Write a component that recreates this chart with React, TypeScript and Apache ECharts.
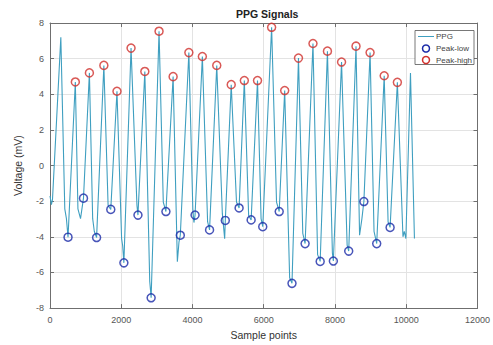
import React, { useEffect, useRef } from "react";
import * as echarts from "echarts";

const xTicks = [0, 2000, 4000, 6000, 8000, 10000, 12000];
const yTicks = [-8, -6, -4, -2, 0, 2, 4, 6, 8];

const highX = [711, 1106, 1512, 1880, 2275, 2662, 3061, 3456, 3898, 4277, 4681, 5087, 5455, 5825, 6221, 6588, 6975, 7382, 7788, 8184, 8590, 8985, 9381, 9751];
const highY = [4.69, 5.2, 5.62, 4.17, 6.59, 5.28, 7.54, 4.99, 6.34, 6.12, 5.62, 4.54, 4.77, 4.77, 7.76, 4.21, 6.03, 6.85, 6.42, 5.81, 6.7, 6.34, 5.04, 4.67];

const lowX = [506, 940, 1308, 1706, 2074, 2469, 2839, 3254, 3658, 4072, 4479, 4921, 5308, 5646, 5972, 6434, 6793, 7161, 7584, 7954, 8385, 8811, 9171, 9547];
const lowY = [-4.02, -1.83, -4.04, -2.46, -5.46, -2.78, -7.42, -2.58, -3.91, -2.78, -3.61, -3.08, -2.38, -3.05, -3.43, -2.58, -6.61, -4.38, -5.38, -5.36, -4.8, -2.02, -4.38, -3.47];

const ppgX = [0, 40, 70, 304, 415, 461, 506, 711, 784, 857, 940, 1106, 1198, 1244, 1308, 1512, 1631, 1706, 1880, 2010, 2040, 2074, 2275, 2441, 2469, 2662, 2800, 2839, 3061, 3180, 3254, 3456, 3575, 3620, 3658, 3898, 4009, 4040, 4072, 4277, 4424, 4479, 4681, 4838, 4903, 4921, 5087, 5235, 5308, 5455, 5576, 5646, 5825, 5925, 5972, 6221, 6359, 6434, 6588, 6727, 6793, 6975, 7096, 7161, 7382, 7512, 7584, 7788, 7927, 7954, 8184, 8341, 8385, 8590, 8690, 8756, 8811, 8985, 9096, 9171, 9381, 9491, 9547, 9751, 9908, 9945, 9990, 10119, 10230];
const ppgY = [-1.7, -2.2, -1.9, 7.2, -2.43, -2.98, -4.02, 4.69, -2.43, -2.98, -1.83, 5.2, -2.98, -3.7, -4.04, 5.62, -2.24, -2.46, 4.17, -4.1, -4.5, -5.46, 6.59, -2.24, -2.78, 5.28, -6.5, -7.42, 7.54, -2.05, -2.58, 4.99, -5.4, -4.3, -3.91, 6.34, -2.43, -3.2, -2.78, 6.12, -3.15, -3.61, 5.62, -2.7, -4.1, -3.08, 4.54, -2.05, -2.38, 4.77, -2.8, -3.05, 4.77, -2.98, -3.43, 7.76, -2.05, -2.58, 4.21, -6.3, -6.61, 6.03, -3.8, -4.38, 6.85, -5.0, -5.38, 6.42, -4.9, -5.36, 5.81, -4.47, -4.8, 6.7, -3.91, -2.98, -2.02, 6.34, -3.7, -4.38, 5.04, -3.17, -3.47, 4.67, -4.0, -3.7, -4.1, 5.2, -4.1];

const LINE = "#3f9fc0";
const RED = "#d0302c";
const BLUE = "#1a2aa8";
const FONT = "Liberation Sans, Arial, sans-serif";

export default function App() {
  const ref = useRef<HTMLDivElement>(null);
  useEffect(() => {
    if (!ref.current) return;
    const chart = echarts.init(ref.current, undefined, { renderer: "svg" });
    const pair = (xs: number[], ys: number[]) => xs.map((x, i) => [x, ys[i]]);
    const axisCommon = {
      axisLine: { show: true, onZero: false, lineStyle: { color: "#6f6f6f", width: 1 } },
      axisTick: { show: true, inside: true, length: 4, lineStyle: { color: "#6f6f6f" } },
    };
    chart.setOption({
      animation: false,
      backgroundColor: "#ffffff",
      textStyle: { fontFamily: FONT },
      title: {
        text: "PPG Signals",
        left: 236,
        top: 8,
        padding: 0,
        textStyle: { fontSize: 10.5, fontWeight: "bold", color: "#222", fontFamily: FONT },
      },
      grid: { left: 50, right: 9, top: 23, bottom: 35, containLabel: false },
      xAxis: [
        {
          type: "value",
          min: xTicks[0],
          max: xTicks[xTicks.length - 1],
          interval: xTicks[1] - xTicks[0],
          name: "Sample points",
          nameLocation: "middle",
          nameGap: 15,
          nameTextStyle: { fontSize: 10.5, color: "#333", fontFamily: FONT },
          axisLabel: { fontSize: 9, color: "#555", margin: 7, fontFamily: FONT, formatter: (v: number) => String(v) },
          splitLine: { show: true, lineStyle: { color: "#e3e3e3", width: 1 } },
          ...axisCommon,
        },
        {
          type: "value",
          position: "top",
          min: xTicks[0],
          max: xTicks[xTicks.length - 1],
          interval: xTicks[1] - xTicks[0],
          axisLabel: { show: false },
          splitLine: { show: false },
          ...axisCommon,
        },
      ],
      yAxis: [
        {
          type: "value",
          min: yTicks[0],
          max: yTicks[yTicks.length - 1],
          interval: yTicks[1] - yTicks[0],
          name: "Voltage (mV)",
          nameLocation: "middle",
          nameGap: 27,
          nameTextStyle: { fontSize: 10.5, color: "#333", fontFamily: FONT },
          axisLabel: { fontSize: 9, color: "#555", margin: 6, fontFamily: FONT, formatter: (v: number) => String(v) },
          splitLine: { show: true, lineStyle: { color: "#e3e3e3", width: 1 } },
          ...axisCommon,
        },
        {
          type: "value",
          position: "right",
          min: yTicks[0],
          max: yTicks[yTicks.length - 1],
          interval: yTicks[1] - yTicks[0],
          axisLabel: { show: false },
          splitLine: { show: false },
          ...axisCommon,
        },
      ],
      series: [
        {
          name: "PPG",
          type: "line",
          data: pair(ppgX, ppgY),
          showSymbol: false,
          lineStyle: { color: LINE, width: 1.1 },
          z: 2,
        },
        {
          name: "Peak-low",
          type: "scatter",
          data: pair(lowX, lowY),
          symbol: "circle",
          symbolSize: 8,
          itemStyle: { color: "transparent", borderColor: BLUE, borderWidth: 1.5 },
          z: 3,
        },
        {
          name: "Peak-high",
          type: "scatter",
          data: pair(highX, highY),
          symbol: "circle",
          symbolSize: 8,
          itemStyle: { color: "transparent", borderColor: RED, borderWidth: 1.5 },
          z: 3,
        },
      ],
      graphic: [
        {
          type: "rect",
          shape: { x: 415, y: 30.5, width: 59, height: 34 },
          style: { fill: "#ffffff", stroke: "#555", lineWidth: 0.8 },
          z: 100,
        },
        {
          type: "line",
          shape: { x1: 418, y1: 36.5, x2: 434, y2: 36.5 },
          style: { stroke: LINE, lineWidth: 1 },
          z: 101,
        },
        {
          type: "circle",
          shape: { cx: 426, cy: 48.5, r: 3.5 },
          style: { fill: "none", stroke: BLUE, lineWidth: 1.5 },
          z: 101,
        },
        {
          type: "circle",
          shape: { cx: 426, cy: 60, r: 3.5 },
          style: { fill: "none", stroke: RED, lineWidth: 1.5 },
          z: 101,
        },
        {
          type: "text",
          x: 436,
          y: 36.5,
          style: { text: "PPG", fontSize: 8, fill: "#444", fontFamily: FONT, verticalAlign: "middle" },
          z: 101,
        },
        {
          type: "text",
          x: 436,
          y: 48.5,
          style: { text: "Peak-low", fontSize: 8, fill: "#444", fontFamily: FONT, verticalAlign: "middle" },
          z: 101,
        },
        {
          type: "text",
          x: 436,
          y: 60,
          style: { text: "Peak-high", fontSize: 8, fill: "#444", fontFamily: FONT, verticalAlign: "middle" },
          z: 101,
        },
      ],
    });
    return () => chart.dispose();
  }, []);
  return (
    <div
      ref={ref}
      style={{ position: "fixed", left: 0, top: 0, width: 493, height: 345, background: "#fff" }}
    />
  );
}
